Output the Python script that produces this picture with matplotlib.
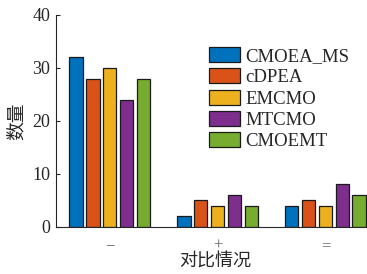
import matplotlib
matplotlib.use("Agg")
import matplotlib.pyplot as plt
import numpy as np

categories = ["\u2212", "+", "="]
series_names = ["CMOEA_MS", "cDPEA", "EMCMO", "MTCMO", "CMOEMT"]
values = {
    "CMOEA_MS": [32, 2, 4],
    "cDPEA": [28, 5, 5],
    "EMCMO": [30, 4, 4],
    "MTCMO": [24, 6, 8],
    "CMOEMT": [28, 4, 6],
}
colors = ["#0072BD", "#D95319", "#EDB120", "#7E2F8E", "#77AC30"]

serif = ["Liberation Serif", "DejaVu Serif"]
cjk = ["Noto Sans CJK SC", "DejaVu Sans"]

W, H = 367, 274
fig = plt.figure(figsize=(W / 100, H / 100), dpi=100)
left, right = 55.7, 379.4
top, bottom = 15.0, 226.7
ax = fig.add_axes([left / W, 1 - bottom / H, (right - left) / W, (bottom - top) / H])

x = np.arange(1, len(categories) + 1)
pitch = 0.156
bw = 0.124
n = len(series_names)
handles = []
for i, name in enumerate(series_names):
    off = (i - (n - 1) / 2) * pitch
    h = ax.bar(x + off, values[name], width=bw, color=colors[i],
               edgecolor="#1a1a1a", linewidth=0.9, label=name, zorder=2)
    handles.append(h)

ax.set_xlim(0.5, 3.5)
ax.set_ylim(0, 40)
ax.set_yticks([0, 10, 20, 30, 40])
ax.set_xticks(x)
ax.set_xticklabels(categories, fontfamily=serif, fontsize=12, color="#666666")
for lbl in ax.get_yticklabels():
    lbl.set_fontfamily(serif)
    lbl.set_fontsize(13)
    lbl.set_color("#262626")
ax.tick_params(axis="both", direction="in", length=3, width=0.8, color="#262626")
ax.tick_params(axis="x", pad=8)
ax.tick_params(axis="y", pad=4)
for s in ["top", "right"]:
    ax.spines[s].set_visible(False)
for s in ["left", "bottom"]:
    ax.spines[s].set_color("#262626")
    ax.spines[s].set_linewidth(0.8)

ax.set_ylabel("数量", fontfamily=cjk, fontsize=13.5, color="#262626", labelpad=4)
fig.text((178 + 253) / 2 / W, 1 - 262 / H, "对比情况", fontfamily=cjk,
         fontsize=13, color="#262626", ha="center", va="center")

leg = ax.legend(handles=handles, labels=series_names, loc="upper left",
                bbox_to_anchor=((209 - left) / (right - left), 1 - (47 - top) / (bottom - top)),
                frameon=False, prop={"family": serif, "size": 13.5},
                handlelength=1.65, handleheight=0.85, handletextpad=0.3,
                labelspacing=0.18, borderaxespad=0, borderpad=0)
for t in leg.get_texts():
    t.set_color("#262626")

fig.savefig("out.png", dpi=100)
